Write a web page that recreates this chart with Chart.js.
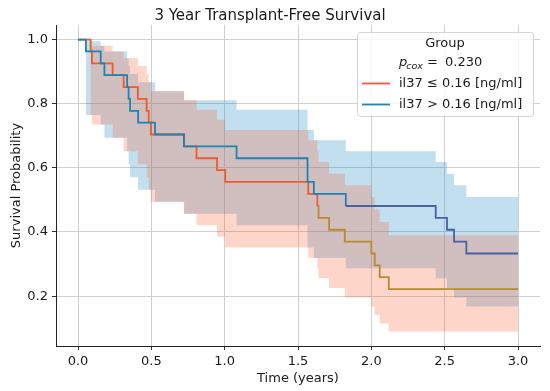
<!DOCTYPE html>
<html><head><meta charset="utf-8">
<script src="https://cdn.jsdelivr.net/npm/chart.js@4.4.1/dist/chart.umd.min.js"></script>
<style>html,body{margin:0;padding:0;background:#fff;}#wrap{width:550px;height:391px;}</style>
</head><body><div id="wrap"><canvas id="c" width="550" height="391"></canvas></div>
<script>
const chartTitle = '3 Year Transplant-Free Survival';
const xAxisTitle = 'Time (years)';
const yAxisTitle = 'Survival Probability';
const legendTitle = 'Group';
const pCoxValue = '0.230';
const seriesLabels = ['il37 ≤ 0.16 [ng/ml]', 'il37 > 0.16 [ng/ml]'];
const xTicks = [0, 0.5, 1.0, 1.5, 2.0, 2.5, 3.0];
const yTicks = [0.2, 0.4, 0.6, 0.8, 1.0];

// il37 <= 0.16 group (orange)
const lowTimes = [0, 0.086, 0.095, 0.236, 0.311, 0.408, 0.468, 0.482, 0.497, 0.724, 0.808, 0.948, 1.004, 1.57, 1.632, 1.64, 1.712, 1.819, 2.0, 2.023, 2.057, 2.119, 3.0];
const lowSurv  = [1.0, 0.963, 0.926, 0.889, 0.852, 0.815, 0.778, 0.741, 0.704, 0.667, 0.630, 0.593, 0.556, 0.519, 0.481, 0.444, 0.407, 0.370, 0.333, 0.296, 0.259, 0.222, 0.222];
const lowUpper = [1.0, 0.995, 0.981, 0.963, 0.942, 0.918, 0.893, 0.867, 0.839, 0.811, 0.781, 0.750, 0.718, 0.686, 0.652, 0.618, 0.582, 0.546, 0.509, 0.470, 0.431, 0.390, 0.390];
const lowLower = [1.0, 0.765, 0.735, 0.694, 0.652, 0.611, 0.571, 0.532, 0.494, 0.457, 0.421, 0.386, 0.352, 0.319, 0.287, 0.256, 0.225, 0.196, 0.168, 0.141, 0.115, 0.090, 0.090];

// il37 > 0.16 group (blue)
const highTimes = [0, 0.054, 0.155, 0.18, 0.335, 0.345, 0.355, 0.41, 0.525, 0.722, 1.081, 1.565, 1.608, 1.826, 2.439, 2.516, 2.564, 2.648, 3.0];
const highSurv  = [1.0, 0.963, 0.926, 0.889, 0.852, 0.815, 0.778, 0.741, 0.704, 0.667, 0.630, 0.556, 0.519, 0.481, 0.444, 0.407, 0.370, 0.333, 0.333];
const highUpper = [1.0, 0.995, 0.981, 0.963, 0.942, 0.918, 0.893, 0.867, 0.839, 0.811, 0.781, 0.718, 0.686, 0.652, 0.618, 0.582, 0.546, 0.509, 0.509];
const highLower = [1.0, 0.765, 0.735, 0.694, 0.652, 0.611, 0.571, 0.532, 0.494, 0.457, 0.421, 0.352, 0.319, 0.287, 0.256, 0.225, 0.196, 0.168, 0.168];

const FONT = "'DejaVu Sans', sans-serif";
const TXT = '#1a1a1a';
const orange = '#f15a2b', orangeLate = '#b98a2e';
const blue = '#1b85b8', blueLate = '#4661a8';

function pts(xs, ys) { return xs.map((x, i) => ({ x: x, y: ys[i] })); }

Chart.defaults.font.family = FONT;

const legendPlugin = {
  id: 'kmLegend',
  afterDraw(chart) {
    const ctx = chart.ctx, ca = chart.chartArea;
    const w = 176, h = 84;
    const x0 = ca.right - 7 - w, y0 = ca.top + 7;
    ctx.save();
    ctx.beginPath();
    ctx.roundRect(x0 + 0.5, y0 + 0.5, w, h, 3);
    ctx.fillStyle = 'rgba(255,255,255,0.8)';
    ctx.fill();
    ctx.strokeStyle = '#d4d4d4';
    ctx.lineWidth = 1;
    ctx.stroke();
    ctx.fillStyle = TXT;
    ctx.textBaseline = 'middle';
    ctx.font = '13px ' + FONT;
    ctx.textAlign = 'center';
    ctx.fillText(legendTitle, x0 + w / 2, y0 + 11.5);
    ctx.textAlign = 'left';
    ctx.font = 'italic 13px ' + FONT;
    let px = x0 + 42;
    ctx.fillText('p', px, y0 + 31);
    px += ctx.measureText('p').width - 1;
    ctx.font = 'italic 9.5px ' + FONT;
    ctx.fillText('cox', px, y0 + 35);
    ctx.font = '13px ' + FONT;
    ctx.fillText('=', x0 + 70, y0 + 31);
    ctx.fillText(pCoxValue, x0 + 88, y0 + 31);
    const rows = [[seriesLabels[0], orange, y0 + 51.5], [seriesLabels[1], blue, y0 + 72.5]];
    rows.forEach(r => {
      ctx.strokeStyle = r[1];
      ctx.lineWidth = 1.8;
      ctx.beginPath();
      ctx.moveTo(x0 + 5, r[2]);
      ctx.lineTo(x0 + 33, r[2]);
      ctx.stroke();
      ctx.fillText(r[0], x0 + 42, r[2]);
    });
    ctx.restore();
  }
};

const bandDs = (xs, ys, fill, color) => ({
  data: pts(xs, ys), stepped: 'before', pointRadius: 0, borderWidth: 0,
  borderColor: 'rgba(0,0,0,0)', backgroundColor: color, fill: fill, tension: 0
});

new Chart(document.getElementById('c'), {
  type: 'line',
  data: {
    datasets: [
      { label: seriesLabels[1], data: pts(highTimes, highSurv), stepped: 'before', pointRadius: 0,
        borderColor: blue, borderWidth: 1.8, fill: false,
        segment: { borderColor: c => c.p0.parsed.x >= 1.8 ? blueLate : blue } },
      { label: seriesLabels[0], data: pts(lowTimes, lowSurv), stepped: 'before', pointRadius: 0,
        borderColor: orange, borderWidth: 1.8, fill: false,
        segment: { borderColor: c => c.p0.parsed.x >= 1.6 ? orangeLate : orange } },
      bandDs(lowTimes, lowUpper, '+1', 'rgba(248,104,60,0.28)'),
      bandDs(lowTimes, lowLower, false, 'rgba(0,0,0,0)'),
      bandDs(highTimes, highUpper, '+1', 'rgba(30,135,195,0.27)'),
      bandDs(highTimes, highLower, false, 'rgba(0,0,0,0)')
    ]
  },
  options: {
    responsive: false, animation: false, devicePixelRatio: 1,
    layout: { padding: { left: 0, right: 10, top: 0, bottom: 0 } },
    plugins: {
      legend: { display: false },
      tooltip: { enabled: false },
      title: { display: true, text: chartTitle, color: TXT,
        font: { size: 15, weight: 'normal', family: FONT }, padding: { top: 7, bottom: 0 } }
    },
    scales: {
      x: {
        type: 'linear', min: -0.15, max: 3.15,
        afterBuildTicks: s => { s.ticks = xTicks.map(v => ({ value: v })); },
        afterFit: s => { s.height = 45; },
        ticks: { callback: v => Number(v).toFixed(1), color: TXT, font: { size: 13 }, padding: 4, maxRotation: 0, autoSkip: false },
        grid: { color: '#cfcfcf', lineWidth: 1, tickLength: 4, tickColor: '#333' },
        border: { color: '#222', width: 1 },
        title: { display: true, text: xAxisTitle, color: TXT, font: { size: 13 }, padding: { top: 1, bottom: 5 } }
      },
      y: {
        type: 'linear', min: 0.0445, max: 1.0455,
        afterBuildTicks: s => { s.ticks = yTicks.map(v => ({ value: v })); },
        afterFit: s => { s.width = 56; },
        ticks: { callback: v => Number(v).toFixed(1), color: TXT, font: { size: 13 }, padding: 4, autoSkip: false },
        grid: { color: '#cfcfcf', lineWidth: 1, tickLength: 4, tickColor: '#333' },
        border: { color: '#222', width: 1 },
        title: { display: true, text: yAxisTitle, color: TXT, font: { size: 13 }, padding: { top: 9, bottom: 4 } }
      }
    }
  },
  plugins: [legendPlugin]
});
</script></body></html>
